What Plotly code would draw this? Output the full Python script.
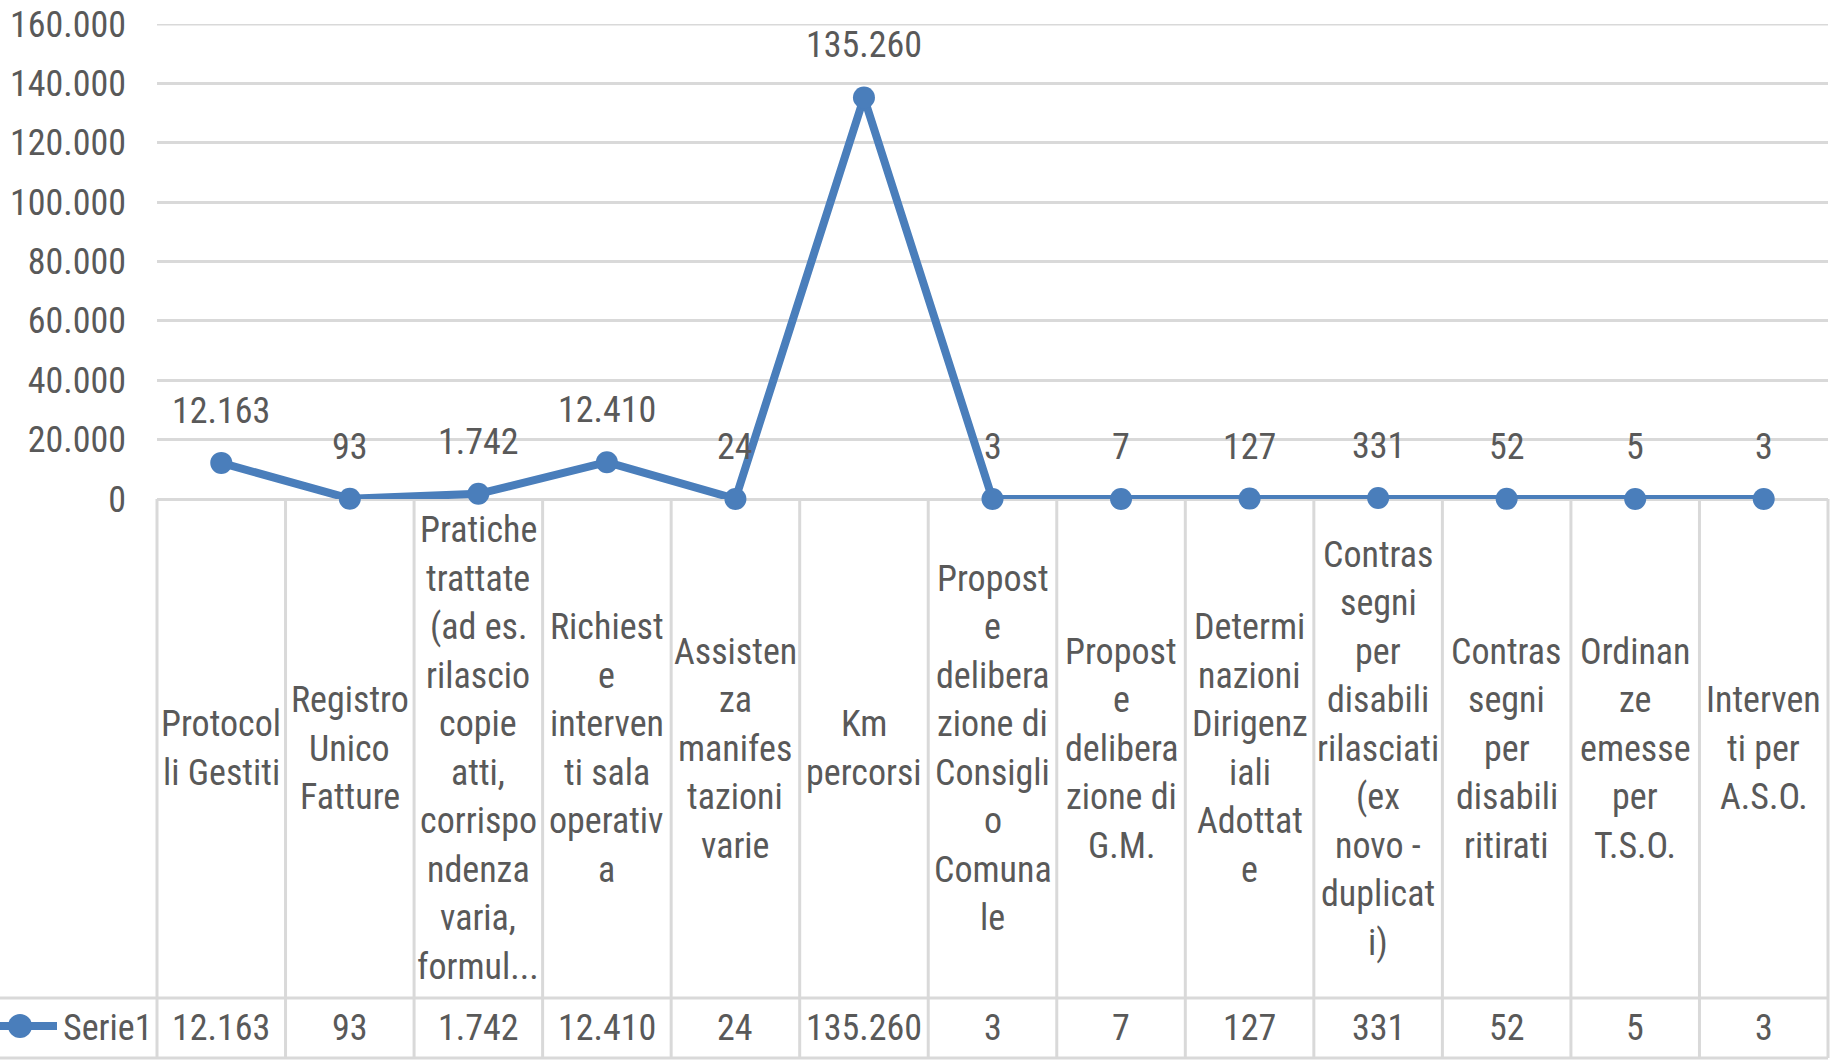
import plotly.graph_objects as go

categories = [
    "Protocol<br>li Gestiti",
    "Registro<br>Unico<br>Fatture",
    "Pratiche<br>trattate<br>(ad es.<br>rilascio<br>copie<br>atti,<br>corrispo<br>ndenza<br>varia,<br>formul...",
    "Richiest<br>e<br>interven<br>ti sala<br>operativ<br>a",
    "Assisten<br>za<br>manifes<br>tazioni<br>varie",
    "Km<br>percorsi",
    "Propost<br>e<br>delibera<br>zione di<br>Consigli<br>o<br>Comuna<br>le",
    "Propost<br>e<br>delibera<br>zione di<br>G.M.",
    "Determi<br>nazioni<br>Dirigenz<br>iali<br>Adottat<br>e",
    "Contras<br>segni<br>per<br>disabili<br>rilasciati<br>(ex<br>novo -<br>duplicat<br>i)",
    "Contras<br>segni<br>per<br>disabili<br>ritirati",
    "Ordinan<br>ze<br>emesse<br>per<br>T.S.O.",
    "Interven<br>ti per<br>A.S.O.",
]
values = [12163, 93, 1742, 12410, 24, 135260, 3, 7, 127, 331, 52, 5, 3]
series_name = "Serie1"
y_ticks = [0, 20000, 40000, 60000, 80000, 100000, 120000, 140000, 160000]

FONT = "Roboto Condensed, Liberation Sans Narrow, Arial Narrow, sans-serif"
GRAY = "#595959"
GRID = "#d9d9d9"
BLUE = "#4a7ebb"

W, H = 1843, 1061
L, R, T, B = 157, 15, 24, 562
pw, ph = W - L - R, H - T - B

def px_y(py):
    return (H - B - py) / ph

def px_x(px):
    return (px - L) / pw

def fmt(v):
    return f"{v:,}".replace(",", ".")

n = len(values)
xs = list(range(n))

fig = go.Figure()
fig.add_trace(go.Scatter(
    x=xs, y=values, mode="lines+markers", name=series_name,
    line=dict(color=BLUE, width=8),
    marker=dict(color=BLUE, size=22),
    showlegend=False, cliponaxis=False,
))

annotations = []
# data labels
for i, v in enumerate(values):
    annotations.append(dict(x=i, y=v, xref="x", yref="y", text=fmt(v), showarrow=False,
                            yshift=52, font=dict(family=FONT, size=36, color=GRAY)))
# table category cells (one annotation per wrapped line)
LINE_H = 48.5
row1_mid_px = (499 + 998) / 2
row2_mid = px_y((998 + 1058) / 2)
for i, c in enumerate(categories):
    parts = c.split("<br>")
    m = len(parts)
    for k, part in enumerate(parts):
        py = row1_mid_px + (k - (m - 1) / 2) * LINE_H
        annotations.append(dict(x=i, y=px_y(py), xref="x", yref="paper", text=part, showarrow=False,
                                yanchor="middle", align="center",
                                font=dict(family=FONT, size=36, color=GRAY)))
    annotations.append(dict(x=i, y=row2_mid, xref="x", yref="paper", text=fmt(values[i]), showarrow=False,
                            yanchor="middle", font=dict(family=FONT, size=36, color=GRAY)))
annotations.append(dict(x=px_x(61), y=row2_mid, xref="paper", yref="paper", text=series_name,
                        showarrow=False, xanchor="left", yanchor="middle",
                        font=dict(family=FONT, size=36, color=GRAY)))

shapes = []
# top gridline (range edge)
shapes.append(dict(type="line", xref="paper", yref="y", x0=0, x1=1, y0=y_ticks[-1], y1=y_ticks[-1],
                   line=dict(color=GRID, width=3), layer="below"))
y_top = 0
y_row = px_y(998)
y_bot = px_y(1058)
for i in range(n + 1):
    shapes.append(dict(type="line", xref="paper", yref="paper", x0=i / n, x1=i / n,
                       y0=y_top, y1=y_bot, line=dict(color=GRID, width=3), layer="below"))
for yy in (y_row, y_bot):
    shapes.append(dict(type="line", xref="paper", yref="paper", x0=px_x(0), x1=1,
                       y0=yy, y1=yy, line=dict(color=GRID, width=3), layer="below"))
# legend key in table
key_y = px_y(1026)
shapes.append(dict(type="line", xref="paper", yref="paper", x0=px_x(0), x1=px_x(57),
                   y0=key_y, y1=key_y, line=dict(color=BLUE, width=8)))
shapes.append(dict(type="circle", xref="paper", yref="paper", x0=px_x(8), x1=px_x(32),
                   y0=key_y - 12 / ph, y1=key_y + 12 / ph,
                   fillcolor=BLUE, line=dict(color=BLUE, width=0)))

fig.update_layout(
    width=W, height=H,
    margin=dict(l=L, r=R, t=T, b=B, pad=0, autoexpand=False),
    paper_bgcolor="white", plot_bgcolor="white",
    separators=",.",
    xaxis=dict(range=[-0.5, n - 0.5], showticklabels=False, showgrid=False, zeroline=False,
               showline=False, fixedrange=True, automargin=False),
    yaxis=dict(range=[0, 160000], tickvals=y_ticks, ticktext=[fmt(t) for t in y_ticks],
               showgrid=True, gridcolor=GRID, gridwidth=3, zeroline=True, zerolinecolor=GRID,
               zerolinewidth=3, showline=False, ticks="", ticklabelstandoff=30, automargin=False,
               tickfont=dict(family=FONT, size=36, color=GRAY)),
    annotations=annotations,
    shapes=shapes,
    showlegend=False,
)

fig.write_html("out.html", config={"displayModeBar": False},
               post_script="document.body.style.margin='0';document.body.style.overflow='hidden';")
